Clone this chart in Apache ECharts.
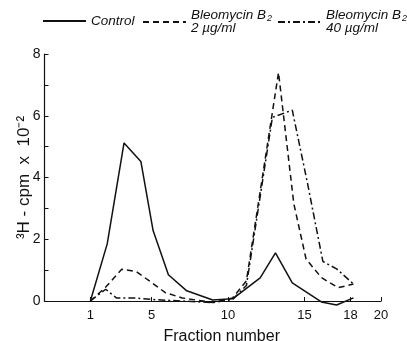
<!DOCTYPE html>
<html>
<head>
<meta charset="utf-8">
<script src="https://cdn.jsdelivr.net/npm/echarts@6/dist/echarts.min.js"></script>
<style>
  html, body { margin: 0; padding: 0; background: #fff; }
  #chart { width: 407px; height: 341px; }
</style>
</head>
<body>
<div id="chart"></div>
<script>
// fraction numbers and 3H counts (x 10^-2)
var fracControl = [1, 2.1, 3.2, 4.3, 5.1, 6.1, 7.3, 9.0, 10.3, 12.1, 13.1, 14.2, 16.1, 17.1, 18.2];
var control     = [0, 1.85, 5.12, 4.52, 2.28, 0.85, 0.33, 0.03, 0.07, 0.75, 1.56, 0.59, -0.03, -0.13, 0.1];

var fracLow = [1, 2.0, 3.05, 4.0, 5.0, 5.9, 7.0, 9.0, 10.3, 11.2, 13.3, 14.3, 15.1, 16.1, 17.2, 18.2];
var bleoLow = [0, 0.45, 1.03, 0.95, 0.6, 0.27, 0.1, -0.05, 0.1, 0.65, 7.4, 3.15, 1.36, 0.76, 0.43, 0.55];

var fracHigh = [1, 2.0, 2.7, 3.9, 5.0, 7.0, 9.0, 10.3, 11.2, 12.9, 14.2, 15.2, 16.2, 17.1, 18.2];
var bleoHigh = [0, 0.38, 0.1, 0.1, 0.05, 0, -0.05, 0.05, 0.5, 5.95, 6.18, 3.8, 1.28, 1.04, 0.55];

var xLabels = [1, 5, 10, 15, 18, 20];
var yLabels = [0, 2, 4, 6, 8];

function pairs(xs, ys) {
  return xs.map(function (x, i) { return [x, ys[i]]; });
}

var ink = '#111';
var font = '"Liberation Sans", Arial, sans-serif';

var chart = echarts.init(document.getElementById('chart'));

function legendBox(name, left, top) {
  return {
    data: [name],
    left: left,
    top: top,
    padding: 0,
    itemWidth: 43,
    itemHeight: 10,
    itemGap: 0,
    selectedMode: false,
    itemStyle: { color: 'transparent', borderColor: 'transparent', borderWidth: 0 },
    formatter: function (n) {
      if (n === 'Control') return '{t|Control}';
      if (n === 'B2 2') return '{t|Bleomycin B}{s|2}\n{t|2 µg/ml}';
      return '{t|Bleomycin B}{s|2}\n{t|40 µg/ml}';
    },
    textStyle: {
      rich: {
        t: { fontFamily: font, fontStyle: 'italic', fontSize: 13.5, color: ink, lineHeight: 13 },
        s: { fontFamily: font, fontStyle: 'italic', fontSize: 9, color: ink, padding: [6, 0, 0, 1], lineHeight: 13 }
      }
    }
  };
}

var option = {
  backgroundColor: '#fff',
  animation: false,
  legend: [
    legendBox('Control', 42, 14),
    legendBox('B2 2', 142, 8),
    legendBox('B2 40', 277, 8)
  ],
  grid: { left: 44.5, right: 26, top: 54, bottom: 40, outerBoundsMode: 'none', containLabel: false },
  xAxis: {
    type: 'value',
    min: -2,
    max: 20,
    name: 'Fraction number',
    nameLocation: 'middle',
    nameGap: 28,
    nameTextStyle: { fontFamily: font, fontSize: 16, color: ink, padding: [0, 0, 0, 18] },
    splitLine: { show: false },
    axisLine: { onZero: false, lineStyle: { color: ink, width: 1.2 } },
    axisTick: { inside: true, length: 4, customValues: xLabels, lineStyle: { color: ink } },
    axisLabel: { customValues: xLabels, fontFamily: font, fontSize: 13, color: ink, margin: 8 }
  },
  yAxis: {
    type: 'value',
    min: 0,
    max: 8,
    interval: 1,
    name: '³H - cpm  x  10⁻²',
    nameLocation: 'middle',
    nameGap: 12,
    nameMoveOverlap: false,
    nameRotate: 90,
    nameTextStyle: { fontFamily: font, fontSize: 17, color: ink },
    splitLine: { show: false },
    axisLine: { show: true, onZero: false, lineStyle: { color: ink, width: 1.2 } },
    axisTick: { inside: true, length: 4, lineStyle: { color: ink } },
    axisLabel: { customValues: yLabels, fontFamily: font, fontSize: 14, color: ink, margin: 4 }
  },
  series: [
    {
      name: 'Control', type: 'line', data: pairs(fracControl, control),
      symbol: 'none', clip: false,
      lineStyle: { color: ink, width: 1.5, type: 'solid' }, itemStyle: { color: ink }
    },
    {
      name: 'B2 2', type: 'line', data: pairs(fracLow, bleoLow),
      symbol: 'none', clip: false,
      lineStyle: { color: ink, width: 1.5, type: [6, 4] }, itemStyle: { color: ink }
    },
    {
      name: 'B2 40', type: 'line', data: pairs(fracHigh, bleoHigh),
      symbol: 'none', clip: false,
      lineStyle: { color: ink, width: 1.5, type: [7, 3, 2, 3] }, itemStyle: { color: ink }
    }
  ]
};

chart.setOption(option);
</script>
</body>
</html>
